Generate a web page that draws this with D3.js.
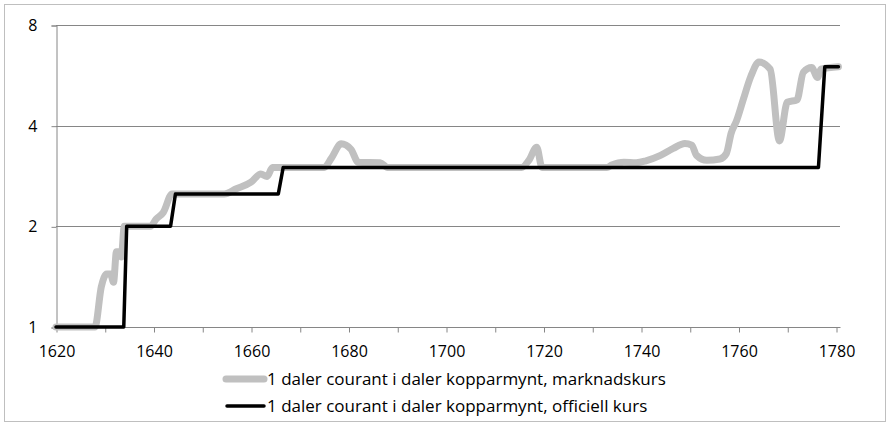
<!DOCTYPE html>
<html>
<head>
  <script src="https://d3js.org/d3.v7.min.js"></script>
  <style>
    body { margin: 0; background: #fff; }
    text { font-family: "Open Sans", sans-serif; fill: #000; }
  </style>
</head>
<body>
  <svg id="chart"></svg>
  <script>
    // Market rate (year, daler kopparmynt per daler courant)
    const marketYears = [1620, 1628, 1629.3, 1630.4, 1631.2, 1631.8, 1632.4, 1633.1, 1633.4, 1634,
      1639.4, 1640.5, 1642, 1643.8, 1654.5, 1657, 1660, 1662, 1663.3, 1664.4, 1675, 1676.5,
      1678.5, 1680.5, 1682, 1686.5, 1688, 1715.5, 1717, 1718.6, 1719.7, 1733, 1734, 1736.5,
      1739, 1741, 1744, 1746.6, 1749, 1750.4, 1751.4, 1753.5, 1756.2, 1757.5, 1758.5, 1759.6,
      1761, 1762.5, 1764.2, 1766.5, 1768.4, 1770, 1772, 1773.3, 1775, 1776.2, 1776.9, 1780.5];
    const marketValues = [1, 1, 1.32, 1.44, 1.44, 1.36, 1.68, 1.68, 1.62, 2,
      2, 2.1, 2.2, 2.5, 2.5, 2.59, 2.71, 2.87, 2.82, 3.0, 3.0, 3.2,
      3.53, 3.4, 3.11, 3.1, 3.0, 3.0, 3.15, 3.45, 3.0, 3.0, 3.05, 3.11,
      3.1, 3.14, 3.26, 3.42, 3.54, 3.5, 3.26, 3.15, 3.18, 3.3, 3.8, 4.14,
      4.8, 5.6, 6.2, 5.9, 3.6, 4.7, 4.78, 5.78, 5.97, 5.57, 5.9, 6.0];

    // Official rate, step function
    const officialYears = [1620, 1633.9, 1634.5, 1643.5, 1644.5, 1665.6, 1666.6, 1776.4, 1777.7, 1780.5];
    const officialValues = [1, 1, 2, 2, 2.5, 2.5, 3, 3, 6, 6];

    const yTickValues = [1, 2, 4, 8];
    const xTickValues = d3.range(1620, 1781, 10);
    const seriesNames = [
      "1 daler courant i daler kopparmynt, marknadskurs",
      "1 daler courant i daler kopparmynt, officiell kurs"
    ];

    const W = 888, H = 424;
    const svg = d3.select("#chart").attr("width", W).attr("height", H);

    // outer frame
    svg.append("rect")
      .attr("x", 4.5).attr("y", 4.5)
      .attr("width", 881).attr("height", 417)
      .attr("fill", "#fff").attr("stroke", "#bfbfbf");

    const x = d3.scaleLinear().domain([1620, 1780]).range([56, 836]);
    const y = d3.scaleLog().base(2).domain([1, 8]).range([327, 25]);

    // horizontal gridlines
    svg.append("g").selectAll("line")
      .data(yTickValues.slice(1))
      .enter().append("line")
      .attr("x1", 56).attr("x2", 840)
      .attr("y1", d => Math.round(y(d)) + 0.5)
      .attr("y2", d => Math.round(y(d)) + 0.5)
      .attr("stroke", "#868686");

    // y axis
    const yAxis = d3.axisLeft(y)
      .tickValues(yTickValues)
      .tickFormat(d3.format("d"))
      .tickSize(5)
      .tickPadding(14);
    const gy = svg.append("g")
      .attr("transform", "translate(56.5,0.5)")
      .call(yAxis);
    gy.select(".domain").attr("stroke", "#868686");
    gy.selectAll(".tick line").attr("stroke", "#868686");
    gy.selectAll("text").style("font-size", "16px").attr("fill", "#000");

    // x axis
    const xAxis = d3.axisBottom(x)
      .tickValues(xTickValues)
      .tickFormat(d => d % 20 === 0 ? d : "")
      .tickSize(5)
      .tickPadding(13);
    const gx = svg.append("g")
      .attr("transform", "translate(0.5," + (Math.round(y(1)) + 0.5) + ")")
      .call(xAxis);
    gx.select(".domain").attr("d", "M" + 56 + ",0H840").attr("stroke", "#868686");
    gx.selectAll(".tick line").attr("stroke", "#868686");
    gx.selectAll("text").style("font-size", "16px").attr("fill", "#000");

    const line = d3.line()
      .x(d => x(d[0]))
      .y(d => y(d[1]));

    const marketData = marketYears.map((yr, i) => [yr, marketValues[i]]);
    const officialData = officialYears.map((yr, i) => [yr, officialValues[i]]);

    svg.append("path")
      .datum(marketData)
      .attr("d", line.curve(d3.curveMonotoneX))
      .attr("fill", "none")
      .attr("stroke", "#c0c0c0")
      .attr("stroke-width", 7)
      .attr("stroke-linejoin", "round")
      .attr("stroke-linecap", "round");

    svg.append("path")
      .datum(officialData)
      .attr("d", line.curve(d3.curveLinear))
      .attr("fill", "none")
      .attr("stroke", "#000")
      .attr("stroke-width", 3.5)
      .attr("stroke-linejoin", "round")
      .attr("stroke-linecap", "round");

    // legend
    const legendStyles = [
      { color: "#c0c0c0", width: 7 },
      { color: "#000", width: 3.5 }
    ];
    const legend = svg.selectAll(".legend")
      .data(seriesNames)
      .enter().append("g")
      .attr("class", "legend")
      .attr("transform", (d, i) => `translate(0,${379 + i * 27})`);

    legend.append("line")
      .attr("x1", (d, i) => i === 0 ? 226 : 227)
      .attr("x2", 264)
      .attr("stroke", (d, i) => legendStyles[i].color)
      .attr("stroke-width", (d, i) => legendStyles[i].width)
      .attr("stroke-linecap", "round");

    legend.append("text")
      .attr("x", 267)
      .attr("dy", "0.35em")
      .style("font-size", "17px")
      .text(d => d);
  </script>
</body>
</html>
